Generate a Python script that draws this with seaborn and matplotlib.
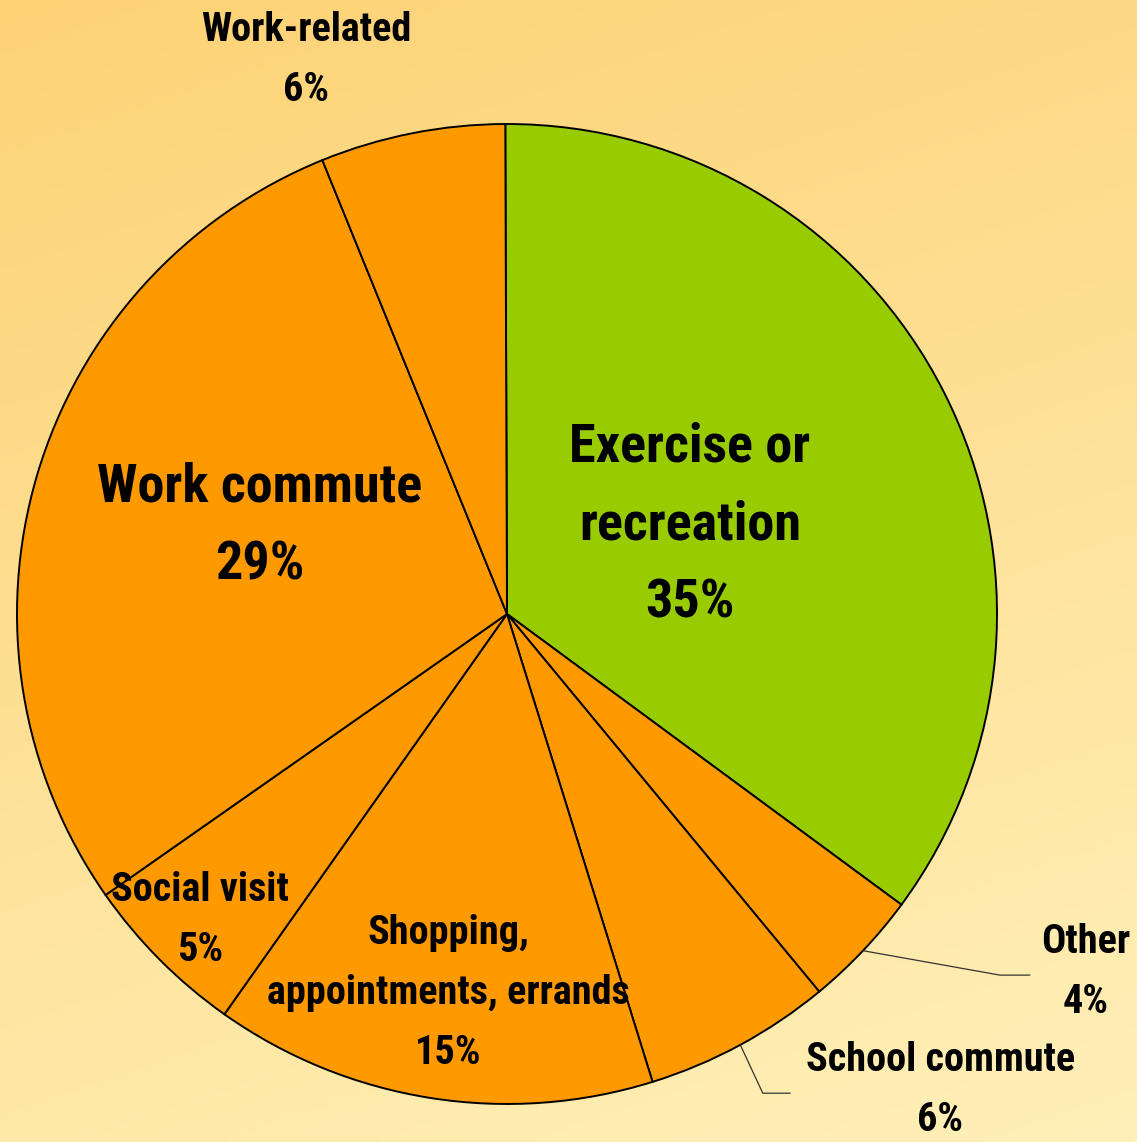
import numpy as np
import matplotlib
matplotlib.use('Agg')
import matplotlib.pyplot as plt
import seaborn as sns

sns.set_theme(style='white')
plt.rcParams['font.family'] = ['Roboto Condensed', 'DejaVu Sans']

categories = ['Exercise or\nrecreation', 'Other', 'School commute', 'Shopping,\nappointments, errands',
              'Social visit', 'Work commute', 'Work-related']
shares = [35.2, 3.9, 6.2, 14.6, 5.5, 28.6, 6.1]
pct_labels = ['35%', '4%', '6%', '15%', '5%', '29%', '6%']
colors = ['#99CC00'] + ['#FF9900'] * 6

fig = plt.figure(figsize=(11.37, 11.42), dpi=100)

# background gradient
bg = fig.add_axes([0, 0, 1, 1], zorder=0)
yy, xx = np.mgrid[0:1:200j, 0:1:200j]
t = 0.75 * yy + 0.25 * xx
c0 = np.array([253, 210, 117]) / 255
c1 = np.array([255, 240, 185]) / 255
img = c0[None, None, :] * (1 - t[..., None]) + c1[None, None, :] * t[..., None]
bg.imshow(img, aspect='auto', extent=[0, 1, 0, 1], origin='upper')
bg.axis('off')

ax = fig.add_axes([0, 0, 1, 1], zorder=1)
ax.patch.set_alpha(0)
wedges, _ = ax.pie(shares, colors=colors, startangle=90.2, counterclock=False,
                   wedgeprops=dict(edgecolor='black', linewidth=1.4))
ax.set_aspect('auto')
ax.set_xlim(-1.0347, 1.2857)
ax.set_ylim(-1.0776, 1.2531)
ax.axis('off')


def mid(w):
    return np.deg2rad((w.theta1 + w.theta2) / 2)


big = dict(fontsize=39, fontweight='bold', color='black', ha='center', va='center', linespacing=1.68)
small = dict(fontsize=29, fontweight='bold', color='black', ha='center', va='center', linespacing=1.74)

# label anchors (x, y) in pie units
label_pos = [(0.373, 0.182), (1.18, -0.73), (0.884, -0.971), (-0.12, -0.773),
             (-0.627, -0.624), (-0.504, 0.180), (-0.410, 1.131)]
styles = [big, small, small, small, small, big, small]
for i, (lx, ly) in enumerate(label_pos):
    ax.text(lx, ly, categories[i] + '\n' + pct_labels[i], **styles[i])

# leader lines for the two thin slices: elbow point and end of the horizontal part
leaders = [(1, (1.006, -0.737), 1.067),
           (2, (0.522, -0.978), 0.578)]
for i, (ex, ey), end_x in leaders:
    a = mid(wedges[i])
    ax.plot([np.cos(a), ex, end_x], [np.sin(a), ey, ey], color='#333333', lw=0.9)

fig.savefig('out.png', dpi=100)
